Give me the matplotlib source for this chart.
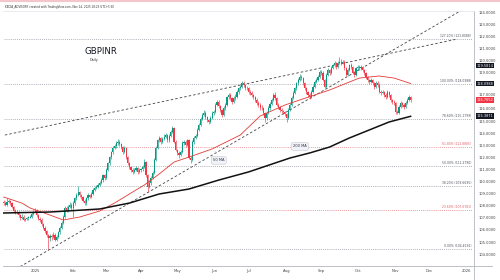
import numpy as np
import pandas as pd
import matplotlib
matplotlib.use("Agg")
import matplotlib.pyplot as plt
from matplotlib.lines import Line2D
from matplotlib.ticker import FormatStrFormatter

# GBPINR daily candles, 5 Dec 2024 .. 14 Nov 2025 (FX: open = previous close)
first_open = 108.30
closes = [
    # Dec 2024
    108.2, 108.1, 108.3, 108.4, 108.2, 107.9, 107.6, 107.4, 107.5, 107.2, 107.0, 107.1, 106.8, 106.9, 107.0, 107.0, 107.1, 107.3, 107.5,
    # Jan
    107.6, 107.2, 106.9, 106.8, 106.5, 106.2, 105.9, 105.6, 105.3, 105.5, 105.4, 105.6, 105.2, 105.4, 105.8, 106.2, 106.6, 107.1, 107.8, 107.6, 107.9, 108.1, 107.8,
    # Feb
    108.2, 108.6, 108.9, 109.1, 108.9, 108.7, 108.4, 108.2, 108.6, 108.9, 108.7, 109.0, 109.3, 109.5, 109.55, 109.7, 109.9, 110.1, 110.5, 110.3,
    # Mar
    110.95, 111.5, 112.0, 112.4, 112.8, 112.9, 113.2, 113.3, 113.1, 112.85, 112.45, 112.75, 112.0, 111.5, 111.2, 110.95, 110.8, 110.95, 111.1, 110.8, 110.95,
    # Apr
    111.0, 111.2, 111.6, 110.5, 109.55, 109.9, 110.3, 110.7, 111.8, 112.8, 113.4, 113.6, 113.25, 113.5, 113.7, 113.85, 113.4, 113.8, 114.1, 114.4, 113.3, 112.6,
    # May
    112.35, 112.2, 112.45, 113.2, 113.25, 113.0, 113.4, 111.95, 111.8, 113.25, 113.6, 113.8, 114.25, 114.7, 115.2, 115.5, 115.7, 115.35, 115.1, 114.9, 115.25, 115.65,
    # Jun
    115.75, 116.3, 116.55, 116.2, 115.9, 115.5, 116.05, 116.3, 116.95, 117.15, 116.9, 116.55, 116.9, 117.0, 117.4, 117.7, 117.8, 118.15, 117.95, 117.75, 117.7,
    # Jul
    117.4, 117.3, 117.15, 117.0, 116.75, 116.5, 116.3, 116.1, 116.05, 115.65, 115.25, 115.65, 116.05, 116.4, 116.75, 117.15, 116.9, 116.3, 116.15, 115.9, 115.8, 115.75, 115.6,
    # Aug
    115.25, 115.9, 116.3, 116.9, 117.3, 117.7, 118.1, 118.4, 118.65, 118.55, 118.15, 117.75, 117.4, 117.15, 117.0, 117.4, 117.8, 118.2, 118.4, 118.65, 119.05,
    # Sep
    118.95, 118.4, 117.8, 118.8, 119.2, 118.95, 119.4, 119.6, 119.8, 119.45, 119.8, 119.9, 119.8, 119.9, 119.35, 118.8, 119.2, 119.6, 119.45, 118.95, 118.8, 119.35,
    # Oct
    119.45, 119.35, 119.45, 119.2, 118.95, 118.65, 118.4, 118.2, 118.4, 118.1, 117.8, 118.15, 118.0, 117.4, 117.3, 117.4, 117.15, 117.0, 117.4, 117.15, 116.75, 116.55, 116.5,
    # Nov
    115.75, 115.7, 116.15, 116.5, 116.3, 116.15, 116.5, 116.75, 117.0, 116.7652,
]
highs = [
    108.45, 108.35, 108.6, 108.55, 108.5, 108.3, 108.0, 107.75, 107.65, 107.6, 107.3, 107.3, 107.2, 107.0, 107.1, 107.15, 107.25, 107.45, 107.65,
    107.8, 107.75, 107.3, 107.1, 106.95, 106.6, 106.3, 106.0, 105.7, 105.7, 105.7, 105.8, 105.75, 105.6, 105.95, 106.35, 106.75, 107.25, 107.95, 107.95, 108.05, 108.3, 108.25,
    108.35, 108.75, 109.05, 109.6, 109.25, 109.0, 108.8, 108.55, 108.75, 109.05, 109.0, 109.15, 109.45, 109.65, 109.75, 109.85, 110.05, 110.25, 110.65, 110.6,
    111.1, 111.65, 112.15, 112.55, 112.95, 113.1, 113.35, 113.5, 113.45, 113.2, 112.95, 112.9, 112.85, 112.1, 111.65, 111.3, 111.1, 111.1, 111.25, 111.2, 111.1,
    111.15, 111.35, 111.85, 111.7, 110.6, 110.1, 110.45, 110.85, 111.95, 112.95, 113.55, 113.75, 113.7, 113.65, 113.9, 114.05, 113.95, 113.95, 114.25, 114.6, 114.5, 113.4,
    112.7, 112.5, 112.6, 113.35, 113.45, 113.4, 113.55, 113.5, 112.1, 113.4, 113.75, 113.95, 114.4, 114.85, 115.35, 115.65, 115.9, 115.8, 115.45, 115.2, 115.4, 115.8,
    115.95, 116.45, 116.75, 116.7, 116.3, 116.0, 116.2, 116.45, 117.1, 117.35, 117.3, 117.0, 117.05, 117.2, 117.55, 117.85, 118.0, 118.3, 118.3, 118.05, 117.9,
    117.85, 117.6, 117.45, 117.25, 117.1, 116.9, 116.65, 116.45, 116.3, 116.15, 115.75, 115.8, 116.2, 116.55, 116.9, 117.3, 117.4, 117.0, 116.45, 116.25, 116.05, 115.95, 115.85,
    115.7, 116.05, 116.45, 117.05, 117.45, 117.85, 118.25, 118.55, 118.85, 118.8, 118.65, 118.25, 117.85, 117.5, 117.3, 117.55, 117.95, 118.35, 118.55, 118.8, 119.2,
    119.25, 119.1, 118.5, 118.95, 119.35, 119.3, 119.55, 119.75, 119.95, 119.9, 119.95, 120.3, 120.1, 120.05, 120.0, 119.45, 119.35, 119.75, 119.8, 119.55, 119.1, 119.5,
    119.6, 119.6, 119.6, 119.55, 119.3, 119.05, 118.75, 118.5, 118.55, 118.5, 118.2, 118.3, 118.3, 118.1, 117.55, 117.55, 117.5, 117.3, 117.55, 117.5, 117.25, 116.85, 116.7,
    116.6, 115.95, 116.3, 116.65, 116.6, 116.45, 116.65, 116.9, 117.15, 117.1,
]
lows = [
    108.05, 107.95, 108.0, 108.2, 108.1, 107.8, 107.5, 107.3, 107.3, 107.05, 106.8, 106.9, 106.7, 106.7, 106.85, 106.85, 106.95, 107.0, 107.2,
    107.45, 107.1, 106.8, 106.65, 106.35, 106.05, 105.75, 105.4, 104.46, 105.1, 105.2, 105.3, 105.05, 105.1, 105.3, 105.7, 106.1, 106.5, 107.0, 107.45, 107.5, 107.8, 107.65,
    107.1, 108.1, 108.5, 108.8, 108.75, 108.55, 108.3, 108.05, 108.1, 108.5, 108.6, 108.6, 108.9, 109.2, 109.35, 109.45, 109.6, 109.8, 110.0, 110.15,
    110.2, 110.85, 111.4, 111.9, 112.3, 112.65, 112.8, 113.05, 112.95, 112.7, 112.3, 112.35, 111.9, 111.4, 111.05, 110.8, 110.65, 110.7, 110.85, 110.65, 110.7,
    110.8, 110.9, 111.1, 110.4, 109.15, 109.45, 109.75, 110.2, 110.6, 111.7, 112.7, 113.3, 113.1, 113.15, 113.4, 113.6, 113.25, 113.3, 113.7, 114.0, 113.2, 112.5,
    112.2, 111.95, 112.1, 112.35, 113.05, 112.85, 112.9, 111.85, 111.5, 111.7, 113.1, 113.5, 113.7, 114.15, 114.6, 115.1, 115.4, 115.2, 114.95, 114.75, 114.8, 115.15,
    115.5, 115.65, 116.2, 116.05, 115.75, 115.35, 115.4, 115.95, 116.2, 116.8, 116.75, 116.4, 116.45, 116.75, 116.9, 117.25, 117.55, 117.7, 117.8, 117.6, 117.55,
    117.25, 117.15, 117.0, 116.85, 116.6, 116.35, 116.15, 115.95, 115.9, 115.5, 114.95, 115.1, 115.55, 115.95, 116.3, 116.65, 116.75, 116.2, 116.0, 115.75, 115.65, 115.55, 115.45,
    114.9, 115.15, 115.8, 116.2, 116.8, 117.2, 117.6, 118.0, 118.3, 118.4, 118.0, 117.6, 117.25, 117.0, 116.85, 116.9, 117.3, 117.7, 118.1, 118.3, 118.55,
    118.8, 118.3, 117.7, 117.7, 118.7, 118.8, 118.85, 119.3, 119.5, 119.3, 119.35, 119.7, 119.65, 119.7, 119.2, 118.7, 118.7, 119.1, 119.3, 118.85, 118.65, 118.7,
    119.2, 119.2, 119.25, 119.05, 118.8, 118.5, 118.25, 118.05, 118.1, 117.95, 117.65, 117.7, 117.85, 117.3, 117.15, 117.2, 117.0, 116.85, 116.9, 117.0, 116.6, 116.4, 116.35,
    115.6, 115.55, 115.6, 116.05, 116.15, 116.0, 116.05, 116.4, 116.65, 116.6,
]

# moving averages
ma50_dates = ["2024-12-05", "2024-12-20", "2024-12-27", "2025-01-14", "2025-01-24", "2025-02-07",
              "2025-02-25", "2025-03-10", "2025-03-21", "2025-04-03", "2025-04-16", "2025-04-29",
              "2025-05-12", "2025-05-30", "2025-06-24", "2025-07-10", "2025-07-31", "2025-08-13",
              "2025-08-26", "2025-09-08", "2025-09-19", "2025-10-02", "2025-10-20", "2025-10-31", "2025-11-14"]
ma50_vals = [108.72, 108.22, 107.81, 107.23, 106.82, 107.07, 107.56, 108.22, 108.97, 109.71, 110.62, 111.61,
             112.02, 112.69, 113.84, 115.41, 116.32, 116.74, 117.15, 117.56, 118.06, 118.55, 118.72, 118.55, 118.10]
ma200_dates = ["2024-12-05", "2025-01-14", "2025-02-25", "2025-03-21", "2025-04-16", "2025-05-12",
               "2025-06-05", "2025-07-01", "2025-08-05", "2025-08-21", "2025-09-08", "2025-09-24",
               "2025-10-10", "2025-10-28", "2025-11-14"]
ma200_vals = [107.40, 107.48, 107.73, 108.22, 108.97, 109.38, 110.12, 110.79, 111.94, 112.36, 112.85, 113.60,
              114.26, 114.92, 115.39]

# dashed trend lines (date, price)
trend_steep = [("2024-12-19", 102.97), ("2025-12-29", 124.17)]
trend_upper = [("2024-12-03", 113.76), ("2025-12-23", 121.74)]

# fibonacci retracement
fib_pct = ["0.00%", "23.60%", "38.20%", "50.00%", "61.80%", "78.60%", "100.00%", "127.20%"]
fib_price = [104.4592, 107.6781, 109.6695, 111.2790, 112.8885, 115.1799, 118.0988, 121.8088]
fib_red = [False, True, False, False, True, False, False, False]

# price scale markers
marker_vals = [119.5814, 118.0988, 116.7652, 115.3871]
marker_cols = ["#131722", "#131722", "#f23645", "#131722"]

# price scale ticks (118 is hidden under a marker)
price_ticks = [104, 105, 106, 107, 108, 109, 110, 111, 112, 113, 114, 115, 116, 117, 119, 120, 121, 122, 123, 124]
month_labels = ["2025", "Feb", "Mar", "Apr", "May", "Jun", "Jul", "Aug", "Sep", "Oct", "Nov", "Dec", "2026"]

GREEN = "#089981"
RED = "#f23645"
GREY = "#9598a1"
FIBRED = "#e8787f"

all_days = pd.bdate_range("2024-12-02", "2026-01-09")
candle_days = pd.bdate_range("2024-12-05", periods=len(closes))


def xpos(dates):
    return all_days.searchsorted(pd.to_datetime(dates))


fig = plt.figure(figsize=(5, 2.8), dpi=100)
ax = fig.add_axes([3 / 500, 14 / 280, 471 / 500, 255 / 280])

# candles
x = xpos(candle_days)
c = np.array(closes)
o = np.array([first_open] + closes[:-1])
cols = np.where(c >= o, GREEN, RED)
ax.vlines(x, lows, highs, colors=cols, lw=0.45, zorder=3)
ax.bar(x, np.maximum(np.abs(c - o), 0.04), bottom=np.minimum(o, c), width=0.7,
       color=cols, lw=0, zorder=4)

# moving averages
ax.plot(xpos(ma50_dates), ma50_vals, color="#e53935", lw=0.6, zorder=5)
ax.plot(xpos(ma200_dates), ma200_vals, color="#111111", lw=1.1, zorder=5)

# trend lines
for line in (trend_steep, trend_upper):
    d, p = zip(*line)
    ax.plot(xpos(list(d)), p, color="#444444", lw=0.6, ls=(0, (3, 2.5)), zorder=2)

# fib levels
fib_x0, fib_x1 = xpos(["2024-12-05", "2026-01-06"])
for pct, price, red in zip(fib_pct, fib_price, fib_red):
    col = FIBRED if red else GREY
    ax.hlines(price, fib_x0, fib_x1, colors=col, lw=0.6, linestyles=(0, (1, 1.5)), zorder=1)
    ax.text(fib_x1 - 0.5, price + 0.08, f"{pct} ({price:.4f})", ha="right", va="bottom",
            fontsize=2.2, color="#e25c66" if red else "#50535e", zorder=6)

# MA callouts
ax.annotate("50 MA", xy=(xpos(["2025-06-02"])[0], 112.75), xytext=(xpos(["2025-06-05"])[0], 111.75),
            fontsize=2.6, color="#333333", ha="center", va="center", zorder=7,
            bbox=dict(boxstyle="round,pad=0.5", fc="#f0f3fa", ec="#b2b5be", lw=0.3),
            arrowprops=dict(arrowstyle="-", color="#b2b5be", lw=0.4))
ax.annotate("200 MA", xy=(xpos(["2025-08-13"])[0], 112.1), xytext=(xpos(["2025-08-13"])[0], 112.9),
            fontsize=2.6, color="#333333", ha="center", va="center", zorder=7,
            bbox=dict(boxstyle="round,pad=0.5", fc="#f0f3fa", ec="#b2b5be", lw=0.3),
            arrowprops=dict(arrowstyle="-", color="#b2b5be", lw=0.4))

ax.set_xlim(2.6, 287.3)
ax.set_ylim(103.02, 124.09)

# price axis
ax.yaxis.tick_right()
ax.set_yticks(price_ticks)
ax.yaxis.set_major_formatter(FormatStrFormatter("%.4f"))
ax.tick_params(axis="y", length=0, pad=3, labelsize=2.6, labelcolor="#444444")
# 117 sits just above the red last-price marker
ax.yaxis.get_major_ticks()[price_ticks.index(117)].label2.set_va("bottom")
for val, col in zip(marker_vals, marker_cols):
    ax.text(1.0 + 2.5 / 471, val, f"{val:.4f}", transform=ax.get_yaxis_transform(),
            ha="left", va="center", fontsize=2.5, color="white", clip_on=False, zorder=10,
            bbox=dict(boxstyle="square,pad=0.25", fc=col, ec="none"))

# time axis
month_starts = pd.date_range("2025-01-01", "2026-01-01", freq="MS")
ax.set_xticks(xpos(month_starts))
ax.set_xticklabels(month_labels)
ax.tick_params(axis="x", length=0, pad=2.5, labelsize=2.7, labelcolor="#444444")

ax.spines["left"].set_visible(False)
ax.spines["top"].set_color("#e0e3eb")
ax.spines["top"].set_linewidth(0.5)
for s in ("right", "bottom"):
    ax.spines[s].set_color("#b2b5be")
    ax.spines[s].set_linewidth(0.6)

# frame pieces outside the axes
fig.add_artist(Line2D([474 / 500, 474 / 500], [0, 14 / 280], color="#b2b5be", lw=0.6))
fig.add_artist(Line2D([474 / 500, 492 / 500], [14 / 280, 14 / 280], color="#b2b5be", lw=0.6))
fig.add_artist(Line2D([0, 1], [1 - 0.6 / 280, 1 - 0.6 / 280], color="#f2c6cb", lw=1.5))

fig.text(5 / 500, 1 - 7 / 280, "KEDIA_ADVISORY created with TradingView.com, Nov 14, 2025 18:23 UTC+5:30",
         fontsize=2.0, va="center", color="#333333")
fig.text(101 / 500, 1 - 51 / 280, "GBPINR", ha="center", va="center", fontsize=6.2, color="#131722")
fig.text(94 / 500, 1 - 59.5 / 280, "Daily", ha="center", va="center", fontsize=2.4, color="#333333")

fig.savefig("out.png", dpi=100)
